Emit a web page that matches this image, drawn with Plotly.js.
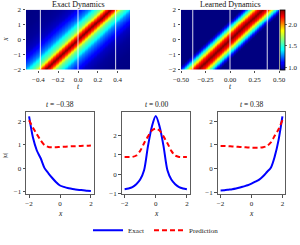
<!DOCTYPE html>
<html>
<head>
<meta charset="utf-8">
<script src="https://cdn.plot.ly/plotly-3.0.1.min.js"></script>
<style>html,body{margin:0;padding:0;background:#fff;}#chart{width:300px;height:245px;}</style>
</head>
<body>
<div id="chart"></div>
<script>
// ---- data ----
const snapshotTimes = [-0.38, 0.00, 0.38];
const snapshotLabels = ['\u22120.38', '0.00', '0.38'];
const xGrid = [-2, -1.75, -1.5, -1.25, -1, -0.75, -0.5, -0.25, 0, 0.25, 0.5, 0.75, 1, 1.25, 1.5, 1.75, 2];

const exactTm038 = [2.2, 1.3, 0.75, 0.42, 0.0, -0.22, -0.42, -0.6, -0.74, -0.8, -0.85, -0.88, -0.91, -0.93, -0.94, -0.96, -0.97];
const predTm038  = [2.04, 1.72, 1.45, 1.18, 0.98, 0.9, 0.89, 0.89, 0.9, 0.91, 0.92, 0.93, 0.93, 0.94, 0.95, 0.95, 0.96];
const exactT000  = [-0.78, -0.74, -0.67, -0.52, -0.28, 0.2, 1.45, 2.45, 3.0, 2.45, 1.45, 0.2, -0.28, -0.52, -0.67, -0.74, -0.78];
const predT000   = [0.88, 0.88, 0.89, 0.96, 1.2, 1.6, 1.95, 2.25, 2.35, 2.25, 1.95, 1.6, 1.2, 0.96, 0.89, 0.88, 0.88];
const exactTp038 = [-0.93, -0.92, -0.9, -0.88, -0.85, -0.81, -0.76, -0.71, -0.64, -0.56, -0.47, -0.33, -0.15, 0.03, 0.5, 1.2, 2.2];
const predTp038  = [0.95, 0.95, 0.94, 0.93, 0.92, 0.91, 0.9, 0.89, 0.88, 0.88, 0.88, 0.9, 0.95, 1.1, 1.38, 1.66, 2.04];

// travelling-wave profiles (distance from crest -> value)
const profileXiExact = [0, 0.3, 0.5, 0.65, 0.8, 1.0, 1.3, 1.6, 2.0, 2.3, 3.0, 4.0, 5.0, 8.0];
const exactProfile   = [3.0, 2.3, 1.5, 1.0, 0.78, 0.5, 0.0, -0.25, -0.52, -0.74, -0.88, -0.95, -0.97, -0.98];
const profileXiPred  = [0, 0.35, 0.6, 0.9, 1.15, 1.35, 1.7, 2.5, 4.0, 8.0];
const predProfile    = [2.35, 2.15, 1.8, 1.35, 1.05, 0.93, 0.89, 0.88, 0.90, 0.93];
const waveSpeed = 6.1;

// ---- helpers ----
function interp(xs, ys, v) {
  v = Math.abs(v);
  if (v >= xs[xs.length - 1]) return ys[ys.length - 1];
  for (let i = 0; i < xs.length - 1; i++) {
    if (v >= xs[i] && v <= xs[i + 1]) {
      const f = (v - xs[i]) / (xs[i + 1] - xs[i]);
      return ys[i] + f * (ys[i + 1] - ys[i]);
    }
  }
  return ys[0];
}
function grid(a, b, n) { const o = []; for (let i = 0; i < n; i++) o.push(a + (b - a) * i / (n - 1)); return o; }
function field(ts, xs, pxs, pys) {
  return xs.map(x => ts.map(t => interp(pxs, pys, x - waveSpeed * t)));
}

const tExact = grid(-0.525, 0.525, 141);
const tPred = grid(-0.5, 0.5, 141);
const xHeat = grid(-2, 2, 121);

const jet = [[0, 'rgb(0,0,128)'], [0.11, 'rgb(0,0,255)'], [0.125, 'rgb(0,0,255)'], [0.34, 'rgb(0,255,255)'],
  [0.35, 'rgb(0,255,255)'], [0.65, 'rgb(255,255,0)'], [0.66, 'rgb(255,255,0)'], [0.89, 'rgb(255,0,0)'], [1, 'rgb(128,0,0)']];

const FONT = 'Liberation Serif, DejaVu Serif, serif';
const W = 300, H = 245;
const dx = (a, b) => [a / W, b / W];
const dy = (top, bot) => [1 - bot / H, 1 - top / H];

const traces = [
  { type: 'heatmap', x: tExact, y: xHeat, z: field(tExact, xHeat, profileXiExact, exactProfile),
    colorscale: jet, zmin: -0.98, zmax: 3.0, zsmooth: 'best', showscale: false, xaxis: 'x', yaxis: 'y', hoverinfo: 'skip' },
  { type: 'heatmap', x: tPred, y: xHeat, z: field(tPred, xHeat, profileXiPred, predProfile),
    colorscale: jet, zmin: 0.94, zmax: 2.35, zsmooth: 'best', xaxis: 'x2', yaxis: 'y2', hoverinfo: 'skip',
    colorbar: { x: 280 / W, xanchor: 'left', thickness: 5, thicknessmode: 'pixels', len: 62 / H, lenmode: 'fraction',
      y: 1 - 41 / H, yanchor: 'middle', outlinewidth: 0.8, outlinecolor: '#000', xpad: 0, ypad: 0,
      tickvals: [1.0, 1.5, 2.0], ticktext: ['1.0', '1.5', '2.0'], ticks: 'outside', ticklen: 2, tickwidth: 0.8,
      tickfont: { family: FONT, size: 7, color: '#222' } } }
];

const exactSets = [exactTm038, exactT000, exactTp038];
const predSets = [predTm038, predT000, predTp038];
for (let k = 0; k < 3; k++) {
  const ax = String(k + 3);
  traces.push({ type: 'scatter', mode: 'lines', x: xGrid, y: exactSets[k], name: 'Exact', showlegend: k === 0,
    line: { color: '#0000ff', width: 2, shape: 'spline', smoothing: 0.8 }, xaxis: 'x' + ax, yaxis: 'y' + ax, hoverinfo: 'skip' });
  traces.push({ type: 'scatter', mode: 'lines', x: xGrid, y: predSets[k], name: 'Prediction', showlegend: k === 0,
    line: { color: '#ff0000', width: 2, dash: '5px,3px', shape: 'spline', smoothing: 0.8 }, xaxis: 'x' + ax, yaxis: 'y' + ax, hoverinfo: 'skip' });
}

const tickFont = { family: FONT, size: 7, color: '#222' };
const baseAx = { ticks: 'outside', ticklen: 2.5, tickwidth: 0.8, tickcolor: '#222', tickfont: tickFont,
  showgrid: false, zeroline: false, fixedrange: true };
const frame = { showline: true, mirror: true, linecolor: '#333', linewidth: 0.8 };
const xTicksBottom = { tickvals: [-2, 0, 2], ticktext: ['\u22122', '0', '2'] };
const yTicksBottom = { tickvals: [-1, 0, 1, 2], ticktext: ['\u22121', '0', '1', '2'] };
const xHeatTicks = { tickvals: [-2, -1, 0, 1, 2], ticktext: ['\u22122', '\u22121', '0', '1', '2'] };

const bottomDomains = [dx(26, 94), dx(121.5, 190), dx(217.5, 285.5)];
const yBottomRanges = [[-1.12, 2.38], [-1.05, 3.2], [-1.1, 2.38]];

const layout = {
  width: W, height: H, margin: { l: 0, r: 0, t: 0, b: 0 }, paper_bgcolor: '#fff', plot_bgcolor: '#fff',
  font: { family: FONT, size: 7, color: '#222' },
  xaxis: Object.assign({}, baseAx, { domain: dx(26, 130), range: [-0.525, 0.525], anchor: 'y',
    tickvals: [-0.4, -0.2, 0, 0.2, 0.4], ticktext: ['\u22120.4', '\u22120.2', '0.0', '0.2', '0.4'] }),
  yaxis: Object.assign({}, baseAx, xHeatTicks, { domain: dy(10, 72), range: [-2, 2], anchor: 'x' }),
  xaxis2: Object.assign({}, baseAx, { domain: dx(181, 279), range: [-0.5, 0.5], anchor: 'y2',
    tickvals: [-0.5, -0.25, 0, 0.25, 0.5], ticktext: ['\u22120.50', '\u22120.25', '0.00', '0.25', '0.50'] }),
  yaxis2: Object.assign({}, baseAx, xHeatTicks, { domain: dy(10, 72), range: [-2, 2], anchor: 'x2' }),
  showlegend: true,
  legend: { orientation: 'h', x: 0.52, xanchor: 'center', y: 1 - 238 / H, yanchor: 'middle',
    font: { family: FONT, size: 7, color: '#222' }, itemwidth: 30, tracegroupgap: 0, bgcolor: 'rgba(0,0,0,0)' },
  shapes: [], annotations: []
};
for (let k = 0; k < 3; k++) {
  const ax = String(k + 3);
  layout['xaxis' + ax] = Object.assign({}, baseAx, frame, xTicksBottom, { domain: bottomDomains[k], range: [-2.2, 2.2], anchor: 'y' + ax });
  layout['yaxis' + ax] = Object.assign({}, baseAx, frame, yTicksBottom, { domain: dy(116, 201), range: yBottomRanges[k], anchor: 'x' + ax });
}

// white snapshot lines on both heatmaps
['x', 'x2'].forEach(xr => {
  snapshotTimes.forEach(t => {
    layout.shapes.push({ type: 'line', xref: xr, yref: xr === 'x' ? 'y domain' : 'y2 domain', x0: t, x1: t, y0: 0, y1: 1,
      line: { color: 'rgba(255,255,255,0.85)', width: 1 } });
  });
});

const ann = (text, xpx, ypx, size, extra) => Object.assign({ text: text, xref: 'paper', yref: 'paper', x: xpx / W, y: 1 - ypx / H,
  showarrow: false, xanchor: 'center', yanchor: 'middle', font: { family: FONT, size: size, color: '#111' } }, extra || {});

layout.annotations.push(ann('Exact Dynamics', 78, 4.5, 8));
layout.annotations.push(ann('Learned Dynamics', 230, 4.5, 8));
layout.annotations.push(ann('<i>t</i>', 78, 89.5, 7.5));
layout.annotations.push(ann('<i>t</i>', 230, 89.5, 7.5));
layout.annotations.push(ann('<i>x</i>', 6, 41, 7.5, { textangle: -90 }));
const bottomCenters = [60, 156, 251.5];
snapshotLabels.forEach((lab, k) => {
  layout.annotations.push(ann('<i>t</i> = ' + lab, bottomCenters[k], 108.5, 7.5));
  layout.annotations.push(ann('<i>x</i>', bottomCenters[k], 220.5, 7.5));
});
layout.annotations.push(ann('|<i>u</i>|', 4.5, 161, 6, { textangle: -90 }));

Plotly.newPlot('chart', traces, layout, { staticPlot: true, displayModeBar: false });
</script>
</body>
</html>
